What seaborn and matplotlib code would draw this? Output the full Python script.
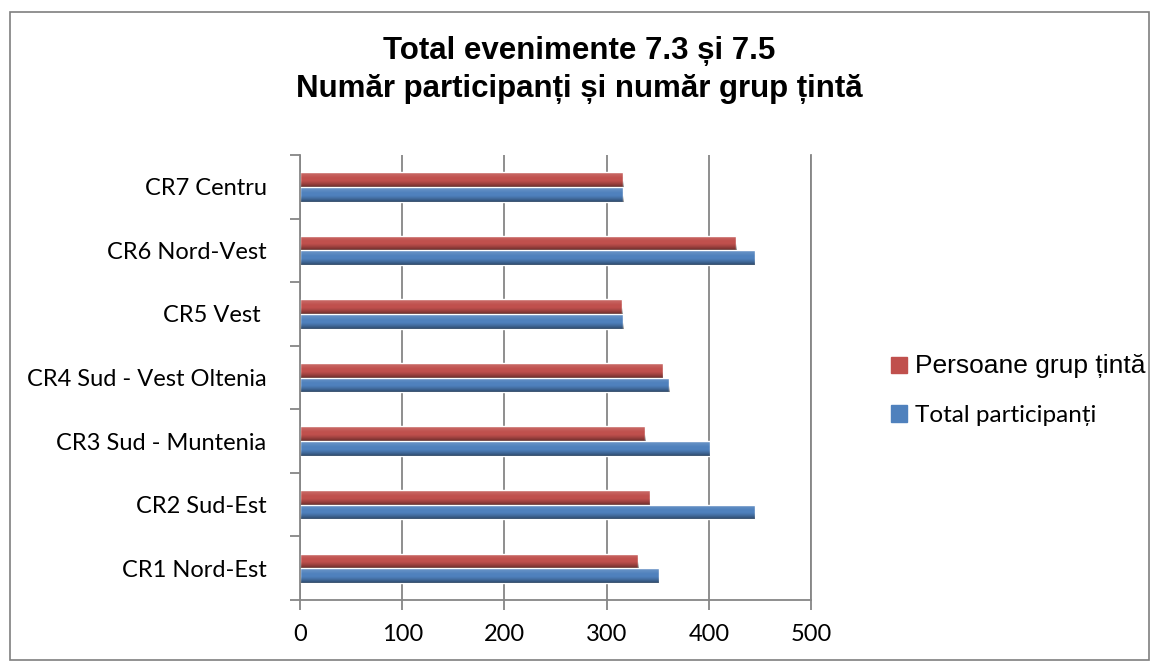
import numpy as np
import pandas as pd
import matplotlib
matplotlib.use("Agg")
import matplotlib.pyplot as plt
from matplotlib.patches import Patch, Rectangle
import seaborn as sns

#================================
# DATA
#================================
regions = ["CR1 Nord-Est", "CR2 Sud-Est", "CR3 Sud - Muntenia",
           "CR4 Sud - Vest Oltenia", "CR5 Vest ", "CR6 Nord-Vest", "CR7 Centru"]
total_participanti = [351, 445, 401, 361, 316, 445, 316]
persoane_grup_tinta = [331, 342, 338, 355, 315, 427, 316]
series_names = ["Persoane grup țintă", "Total participanți"]
x_ticks = [0, 100, 200, 300, 400, 500]

red = "#C0504D"
blue = "#4F81BD"
grid_gray = "#868686"

df = pd.DataFrame({
    "region": regions * 2,
    "value": persoane_grup_tinta + total_participanti,
    "series": [series_names[0]] * len(regions) + [series_names[1]] * len(regions),
})

#================================
# PLOT
#================================
sns.set_style("white")
plt.rcParams["font.family"] = ["Lato", "DejaVu Sans"]
plt.rcParams["text.color"] = "black"
plt.rcParams["xtick.color"] = grid_gray
plt.rcParams["ytick.color"] = grid_gray
plt.rcParams["xtick.labelcolor"] = "black"
plt.rcParams["ytick.labelcolor"] = "black"

fig = plt.figure(figsize=(11.59, 6.68), dpi=100)
ax = fig.add_axes([0.2588, 0.1018, 0.4410, 0.666])

sns.barplot(data=df, y="region", x="value", hue="series",
            order=regions[::-1], hue_order=series_names,
            palette=[red, blue], width=0.46, orient="h",
            saturation=1, legend=False, ax=ax)

# fake the excel 3d look: light band on top, dark edge at the bottom
t = np.linspace(0, 1, 64)
shade = np.zeros((64, 1, 4))
top = t < 0.4
shade[top, 0, :3] = 1.0
shade[top, 0, 3] = 0.18 * (1 - t[top] / 0.4)
bot = t > 0.55
shade[bot, 0, 3] = 0.45 * ((t[bot] - 0.55) / 0.45) ** 1.3
for p in ax.patches:
    x0, y0 = p.get_x(), p.get_y()
    w, h = p.get_width(), p.get_height()
    im = ax.imshow(shade, extent=[x0, x0 + w, y0 + h, y0], aspect="auto",
                   zorder=p.get_zorder() + 0.1, interpolation="bilinear")
    im.set_clip_path(p)

ax.set_xlim(0, 500)
ax.set_ylim(6.5, -0.5)
ax.set_xticks(x_ticks)
ax.set_xticklabels([str(t) for t in x_ticks], fontsize=17)
ax.tick_params(axis="y", labelsize=17, length=0, pad=24)
ax.set_yticks(np.arange(-0.5, 7, 1), minor=True)
ax.tick_params(axis="y", which="minor", left=True, length=7, width=1.3)
ax.tick_params(axis="x", bottom=True, length=7, width=1.3, pad=10)
ax.set_xlabel("")
ax.set_ylabel("")
ax.xaxis.grid(True, color=grid_gray, lw=1.3)
ax.set_axisbelow(True)
ax.spines["top"].set_visible(False)
for s in ["left", "bottom", "right"]:
    ax.spines[s].set_color(grid_gray)
    ax.spines[s].set_linewidth(1.3)

fig.suptitle("Total evenimente 7.3 și 7.5\nNumăr participanți și număr grup țintă",
             y=0.946, fontsize=22.5, fontweight="bold", family="Liberation Sans",
             linespacing=1.35)

handles = [Patch(color=red), Patch(color=blue)]
leg = fig.legend(handles, series_names, loc="center left",
                 bbox_to_anchor=(0.750, 0.416), frameon=False,
                 handlelength=0.65, handleheight=0.65, handletextpad=0.35,
                 labelspacing=1.1, fontsize=17.5)
leg.get_texts()[0].set_fontfamily("Liberation Sans")
leg.get_texts()[0].set_fontsize(19)

# outer chart border
fig.patches.append(Rectangle((0.009, 0.012), 0.982, 0.97, transform=fig.transFigure,
                             fill=False, edgecolor="#7f7f7f", lw=1.2))

plt.savefig("out.png", dpi=100)
